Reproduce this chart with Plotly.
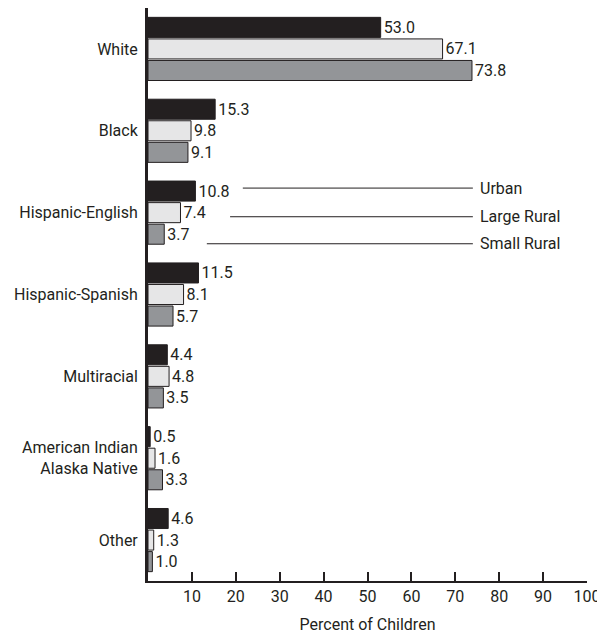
import plotly.graph_objects as go

categories = ["White", "Black", "Hispanic-English", "Hispanic-Spanish", "Multiracial",
              "American Indian<br>Alaska Native", "Other"]
urban = [53.0, 15.3, 10.8, 11.5, 4.4, 0.5, 4.6]
large_rural = [67.1, 9.8, 7.4, 8.1, 4.8, 1.6, 1.3]
small_rural = [73.8, 9.1, 3.7, 5.7, 3.5, 3.3, 1.0]
series_names = ["Urban", "Large Rural", "Small Rural"]
x_ticks = [10, 20, 30, 40, 50, 60, 70, 80, 90, 100]

FONT = "Roboto, sans-serif"
FS = 16
colors = ["#231f20", "#e6e6e7", "#939598"]

fig = go.Figure()
for name, vals, col in zip(series_names, [urban, large_rural, small_rural], colors):
    fig.add_trace(go.Bar(
        y=categories, x=vals, name=name, orientation="h",
        marker=dict(color=col, line=dict(color="#231f20", width=1)),
        texttemplate="%{x:.1f}", textposition="outside", cliponaxis=False,
        textfont=dict(family=FONT, size=FS, color="#231f20"),
    ))

# legend callouts on the Hispanic-English group
legend_rows = [(-0.30, 21.6), (0.05, 18.7), (0.38, 13.4)]
for (dy, x0), name in zip(legend_rows, series_names):
    fig.add_shape(type="line", xref="x", yref="y", x0=x0, x1=74.0, y0=2 + dy, y1=2 + dy,
                  line=dict(color="#231f20", width=1))
    fig.add_annotation(x=75.2, y=2 + dy, xref="x", yref="y", text=name, showarrow=False,
                       xanchor="left", yanchor="middle",
                       font=dict(family=FONT, size=FS, color="#231f20"))

fig.update_layout(
    width=597, height=634,
    margin=dict(l=140, r=18, t=0, b=61),
    paper_bgcolor="white", plot_bgcolor="white",
    barmode="group", bargap=0.21, bargroupgap=0.07,
    showlegend=False,
    font=dict(family=FONT, size=FS, color="#231f20"),
    xaxis=dict(range=[0, 100], tickvals=x_ticks, ticks="inside", ticklen=9, tickwidth=2,
               tickcolor="#231f20", showline=True, linewidth=2, linecolor="#231f20",
               showgrid=False, zeroline=False, automargin=False,
               title=dict(text="Percent of Children", font=dict(family=FONT, size=FS), standoff=14),
               tickfont=dict(family=FONT, size=FS)),
    yaxis=dict(autorange="reversed", showline=True, linewidth=3, linecolor="#231f20",
               showgrid=False, ticks="", tickfont=dict(family=FONT, size=FS), ticklabelstandoff=4,
               automargin=False),
)

fig.write_html("out.html")
